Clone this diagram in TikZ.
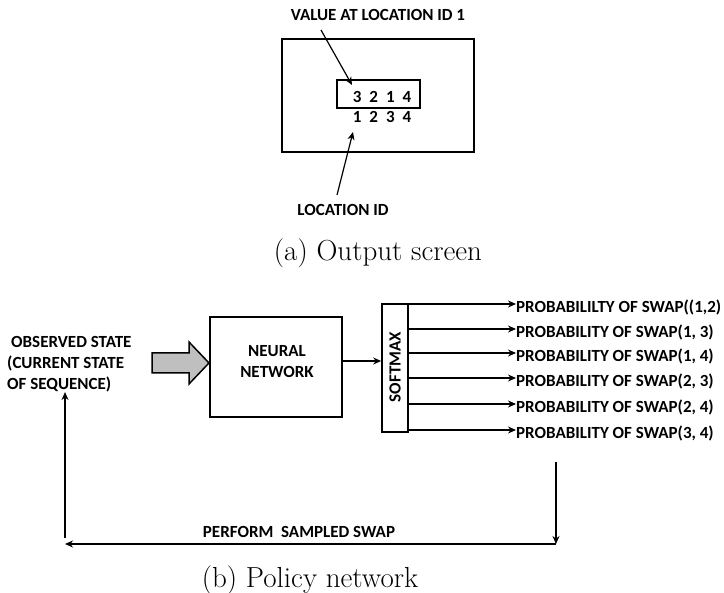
\documentclass[tikz,border=0pt]{standalone}
\usepackage{fontspec}
\newfontfamily\lblfont{Carlito}
\usetikzlibrary{arrows.meta}
\begin{document}
\begin{tikzpicture}[x=1pt,y=-1pt,
  lab/.style={font=\lblfont\bfseries\fontsize{17}{21}\selectfont, inner sep=0pt},
  capt/.style={font=\fontsize{29}{34}\selectfont, inner sep=0pt},
  ar/.style={-{Stealth[length=8pt,width=7pt]}, line width=1.2pt},
  thickbox/.style={draw, line width=2pt, inner sep=0pt},
  thinline/.style={line width=1.2pt}]
\useasboundingbox (0,0) rectangle (724,593);
% ---- (a) output screen ----
\node[thickbox, minimum width=192pt, minimum height=113pt] (screen) at (378,95.5) {};
\node[thickbox, minimum width=83pt, minimum height=28pt] (vals) at (378.5,94) {};
\node[lab] (valtxt) at (382,97) {\spaceskip=8pt 3 2 1 4};
\node[lab] (idtxt) at (382,117) {\spaceskip=8pt 1 2 3 4};
\node[lab] (valuelbl) at (378,15) {VALUE AT LOCATION ID 1};
\node[lab] (loclbl) at (343,210) {LOCATION ID};
\coordinate (va) at (321,30);
\coordinate (vb) at (352,85);
\coordinate (la) at (337,195);
\coordinate (lb) at (353,132);
\draw[ar] (va) -- (vb);
\draw[ar] (la) -- (lb);
\node[capt] (capa) at (378,253) {(a) Output screen};
% ---- (b) policy network ----
\node[lab, anchor=west, align=left] (obs) at (7,364) {\hspace{4pt}OBSERVED STATE\\(CURRENT STATE\\OF SEQUENCE)};
\draw[line width=1.5pt, fill=black!25] (152,353) -- (189,353) -- (189,342) -- (209,363) -- (189,384) -- (189,373) -- (152,373) -- cycle;
\node[draw, line width=1.6pt, minimum width=132pt, minimum height=100pt, inner sep=0pt] (nn) at (276,367) {};
\node[lab, align=center] (nntxt) at (277,362) {NEURAL\\NETWORK};
\node[draw, line width=1.6pt, minimum width=26pt, minimum height=128pt, inner sep=0pt] (soft) at (395,368) {};
\node[lab, rotate=90] (softtxt) at (395,367) {SOFTMAX};
\draw[ar] (nn.east |- 0,361) -- (soft.west |- 0,361);
\foreach \y/\t [count=\i] in {304/{PROBABILILTY OF SWAP((1,2)},329/{PROBABILITY OF SWAP(1, 3)},353/{PROBABILITY OF SWAP(1, 4)},378/{PROBABILITY OF SWAP(2, 3)},404/{PROBABILITY OF SWAP(2, 4)},430/{PROBABILITY OF SWAP(3, 4)}}{
  \node[lab, anchor=west] (p\i) at (516,\y+3) {\t};
  \draw[ar] (soft.east |- 0,\y) -- (p\i.west |- 0,\y);
}
\coordinate (dtop) at (556,462);
\coordinate (dbot) at (556,544);
\coordinate (lbot) at (65,544);
\coordinate (lstart) at (65,538);
\draw[ar] (dtop) -- (dbot);
\draw[ar] (dbot) -- (lbot);
\draw[ar] (lstart) -- (obs.south west -| lstart);
\node[lab] (perf) at (299,532) {PERFORM\ \ SAMPLED SWAP};
\node[capt] (capb) at (310,580) {(b) Policy network};
\end{tikzpicture}
\end{document}
